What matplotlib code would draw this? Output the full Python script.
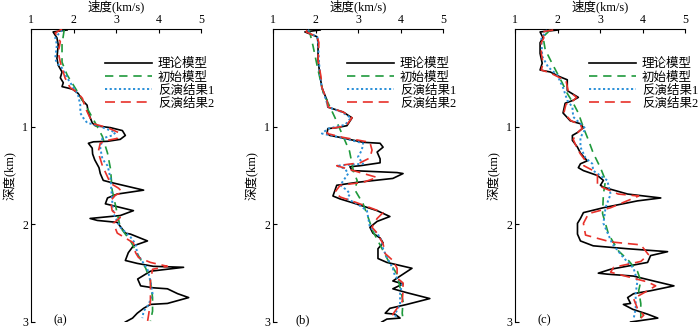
import matplotlib
matplotlib.use("Agg")
import matplotlib.pyplot as plt

plt.rcParams['font.family'] = ['Liberation Serif', 'Noto Sans CJK SC']
plt.rcParams['axes.unicode_minus'] = False

legend_labels = ["理论模型", "初始模型", "反演结果1", "反演结果2"]
panel_tags = ["(a)", "(b)", "(c)"]
xticks = [1, 2, 3, 4, 5]
yticks = [1, 2, 3]

# ---------------- panel (a) ----------------
a_true_d = [0.01, 0.03, 0.09, 0.16, 0.30, 0.37, 0.44, 0.50, 0.55, 0.59, 0.61, 0.62, 0.66, 0.73, 0.78, 0.86,
            0.96, 0.99, 1.01, 1.04, 1.09, 1.13, 1.15, 1.155, 1.17, 1.22, 1.28, 1.34, 1.42, 1.48, 1.55, 1.57,
            1.65, 1.69, 1.73, 1.79, 1.81, 1.86, 1.91, 1.94, 1.96, 1.98, 2.09, 2.10, 2.17, 2.22, 2.29, 2.37,
            2.40, 2.43, 2.44, 2.48, 2.56, 2.63, 2.65, 2.66, 2.71, 2.75, 2.81, 2.82, 2.86, 2.91, 2.96, 3.00]
a_true_v = [1.85, 1.52, 1.61, 1.64, 1.61, 1.64, 1.73, 1.69, 1.76, 1.73, 1.92, 1.99, 2.11, 2.21, 2.32, 2.35,
            2.44, 2.51, 2.87, 3.15, 3.22, 3.10, 2.80, 2.47, 2.35, 2.44, 2.45, 2.50, 2.60, 2.63, 2.70, 2.87,
            3.65, 3.03, 2.80, 2.75, 2.94, 3.41, 3.10, 2.39, 2.56, 3.03, 3.22, 3.34, 3.74, 3.41, 3.29, 3.22,
            3.50, 3.88, 4.59, 3.81, 3.51, 3.58, 3.88, 4.21, 4.45, 4.71, 4.21, 3.81, 3.65, 3.50, 3.39, 3.22]
a_init_d = [0.01, 0.16, 0.34, 0.47, 0.64, 0.81, 0.96, 1.10, 1.27, 1.43, 1.65, 1.89, 2.03, 2.17, 2.30,
            2.45, 2.58, 2.75, 2.89, 2.99]
a_init_v = [1.78, 1.73, 1.73, 1.85, 2.09, 2.32, 2.51, 2.68, 2.80, 2.87, 2.91, 3.03, 3.10, 3.34, 3.50,
            3.70, 3.81, 3.86, 3.86, 3.81]
a_inv1_d = [0.01, 0.09, 0.16, 0.30, 0.35, 0.40, 0.50, 0.58, 0.68, 0.78, 0.86, 0.91, 0.96, 0.99, 1.06, 1.09,
            1.12, 1.22, 1.33, 1.40, 1.45, 1.53, 1.76, 1.89, 2.03, 2.13, 2.20, 2.30, 2.46, 2.58, 2.71, 2.82,
            2.89, 2.96]
a_inv1_v = [1.73, 1.57, 1.61, 1.57, 1.61, 1.73, 1.85, 1.97, 2.11, 2.16, 2.16, 2.23, 2.32, 2.58, 2.99, 2.91,
            2.68, 2.63, 2.68, 2.80, 2.83, 2.87, 2.91, 2.94, 3.10, 3.34, 3.46, 3.50, 3.74, 3.81, 3.86, 3.77,
            3.65, 3.62]
a_inv2_d = [0.00, 0.04, 0.13, 0.24, 0.34, 0.40, 0.50, 0.60, 0.65, 0.71, 0.81, 0.91, 0.97, 1.01, 1.06, 1.12,
            1.14, 1.17, 1.26, 1.33, 1.40, 1.58, 1.63, 1.67, 1.70, 1.76, 1.86, 1.93, 1.99, 2.09, 2.14, 2.19,
            2.29, 2.34, 2.39, 2.43, 2.46, 2.58, 2.79, 2.92, 3.00]
a_inv2_v = [1.73, 1.57, 1.69, 1.64, 1.69, 1.73, 1.80, 1.92, 2.09, 2.21, 2.28, 2.39, 2.47, 2.80, 3.06, 3.03,
            2.80, 2.63, 2.58, 2.63, 2.68, 2.87, 3.06, 3.15, 2.99, 2.87, 2.91, 3.10, 2.94, 3.03, 3.22, 3.41,
            3.46, 3.53, 3.81, 4.21, 3.86, 3.81, 3.81, 3.77, 3.74]

# ---------------- panel (b) ----------------
b_true_d = [0.01, 0.03, 0.08, 0.14, 0.32, 0.49, 0.60, 0.73, 0.80, 0.85, 0.91, 0.99, 1.01, 1.02, 1.07, 1.09,
            1.11, 1.16, 1.17, 1.21, 1.26, 1.33, 1.37, 1.40, 1.41, 1.45, 1.47, 1.48, 1.53, 1.57, 1.60, 1.71,
            1.74, 1.78, 1.86, 1.92, 1.97, 2.03, 2.09, 2.14, 2.19, 2.25, 2.35, 2.39, 2.45, 2.53, 2.58, 2.61,
            2.66, 2.70, 2.76, 2.82, 2.86, 2.91, 2.92, 2.96, 2.97, 3.00]
b_true_v = [2.11, 1.75, 2.04, 2.06, 2.06, 2.11, 2.15, 2.27, 2.29, 2.65, 2.86, 2.74, 2.50, 2.29, 2.27, 2.34,
            2.58, 3.12, 3.52, 3.59, 3.45, 3.52, 3.52, 3.05, 2.81, 2.86, 3.92, 4.06, 3.82, 2.98, 2.50, 2.41,
            2.58, 2.88, 3.45, 3.75, 3.45, 3.28, 3.35, 3.52, 3.59, 3.47, 3.47, 3.68, 4.27, 3.99, 3.82, 4.06,
            3.82, 4.15, 4.69, 4.15, 3.75, 3.64, 3.87, 3.99, 3.68, 3.56]
b_init_d = [0.01, 0.17, 0.40, 0.65, 0.90, 1.10, 1.25, 1.47, 1.55, 1.65, 1.79, 1.93, 2.07, 2.27, 2.37,
            2.51, 2.65, 2.79, 2.91, 2.97]
b_init_v = [1.85, 1.94, 2.05, 2.18, 2.45, 2.65, 2.80, 2.90, 2.98, 2.93, 3.12, 3.24, 3.35, 3.59, 3.71,
            3.92, 3.99, 4.06, 4.04, 4.06]
b_inv1_d = [0.01, 0.03, 0.08, 0.14, 0.32, 0.49, 0.60, 0.73, 0.80, 0.85, 0.91, 0.98, 1.02, 1.07, 1.11, 1.17,
            1.24, 1.31, 1.38, 1.40, 1.43, 1.48, 1.60, 1.65, 1.69, 1.74, 1.79, 1.86, 2.03, 2.09, 2.17, 2.25,
            2.34, 2.45, 2.53, 2.60, 2.71, 2.82, 2.92, 2.96]
b_inv1_v = [1.85, 1.80, 2.04, 2.06, 2.08, 2.11, 2.15, 2.25, 2.30, 2.62, 2.83, 2.70, 2.30, 2.15, 2.58, 3.12,
            3.09, 3.00, 3.12, 2.50, 2.69, 2.77, 2.58, 2.74, 2.81, 2.74, 2.98, 3.21, 3.28, 3.45, 3.56, 3.59,
            3.68, 3.82, 3.87, 4.04, 3.99, 3.99, 3.87, 3.90]
b_inv2_d = [0.01, 0.03, 0.08, 0.14, 0.32, 0.49, 0.60, 0.73, 0.80, 0.85, 0.91, 0.99, 1.02, 1.07, 1.11, 1.16,
            1.24, 1.32, 1.37, 1.40, 1.47, 1.52, 1.57, 1.60, 1.67, 1.72, 1.78, 1.84, 1.88, 1.94, 2.03, 2.09,
            2.20, 2.30, 2.37, 2.45, 2.55, 2.60, 2.68, 2.79, 2.86, 2.92, 2.97]
b_inv2_v = [1.80, 1.78, 2.04, 2.08, 2.06, 2.13, 2.15, 2.27, 2.30, 2.65, 2.86, 2.72, 2.35, 2.27, 2.65, 3.28,
            3.33, 3.28, 3.05, 2.50, 3.05, 3.45, 3.12, 2.58, 2.46, 2.58, 2.98, 3.35, 3.59, 3.45, 3.33, 3.45,
            3.59, 3.64, 3.82, 3.92, 3.92, 4.06, 4.06, 4.04, 3.92, 3.82, 3.82]

# ---------------- panel (c) ----------------
c_true_d = [0.01, 0.03, 0.09, 0.14, 0.25, 0.35, 0.42, 0.44, 0.49, 0.52, 0.63, 0.65, 0.70, 0.73, 0.76, 0.86,
            0.94, 0.97, 1.01, 1.06, 1.09, 1.14, 1.21, 1.27, 1.35, 1.38, 1.42, 1.45, 1.50, 1.55, 1.60, 1.62,
            1.69, 1.73, 1.76, 1.83, 1.88, 1.94, 1.99, 2.10, 2.17, 2.22, 2.25, 2.28, 2.32, 2.39, 2.46, 2.50,
            2.51, 2.53, 2.58, 2.63, 2.68, 2.71, 2.75, 2.81, 2.82, 2.87, 2.92, 2.96, 3.00]
c_true_v = [2.02, 1.59, 1.66, 1.59, 1.59, 1.64, 1.59, 1.83, 2.06, 2.23, 2.23, 2.30, 2.49, 2.37, 2.18, 2.13,
            2.30, 2.54, 2.61, 2.47, 2.35, 2.35, 2.47, 2.54, 2.70, 2.54, 2.49, 2.61, 2.94, 3.08, 3.01, 3.08,
            3.65, 4.43, 3.88, 3.08, 2.61, 2.54, 2.47, 2.47, 2.54, 2.84, 3.65, 4.59, 4.19, 4.12, 3.25, 2.96,
            3.17, 3.79, 4.26, 4.74, 4.19, 3.79, 3.65, 3.72, 3.55, 3.77, 4.12, 4.36, 3.72]
c_init_d = [0.01, 0.08, 0.21, 0.35, 0.45, 0.55, 0.66, 0.76, 0.86, 1.01, 1.14, 1.27, 1.42, 1.55, 1.69,
            1.89, 2.10, 2.27, 2.37, 2.48, 2.58, 2.68, 2.81, 2.96]
c_init_v = [1.83, 1.66, 1.71, 1.87, 1.99, 2.11, 2.23, 2.37, 2.49, 2.61, 2.73, 2.84, 3.01, 3.13, 3.08,
            3.06, 3.20, 3.43, 3.67, 3.88, 3.96, 3.91, 3.96, 3.96]
c_inv1_d = [0.01, 0.10, 0.28, 0.39, 0.47, 0.60, 0.73, 0.80, 0.90, 0.97, 1.02, 1.11, 1.21, 1.32, 1.38, 1.45,
            1.55, 1.69, 1.83, 1.99, 2.20, 2.34, 2.45, 2.58, 2.71, 2.86, 2.97]
c_inv1_v = [1.75, 1.62, 1.64, 1.78, 1.99, 2.13, 2.23, 2.35, 2.37, 2.54, 2.66, 2.54, 2.54, 2.66, 2.82, 2.84,
            3.17, 3.25, 3.13, 3.08, 3.29, 3.55, 3.79, 3.88, 3.84, 3.84, 3.79]
c_inv2_d = [0.01, 0.03, 0.09, 0.14, 0.25, 0.35, 0.42, 0.45, 0.50, 0.53, 0.63, 0.70, 0.74, 0.77, 0.86, 0.94,
            0.98, 1.02, 1.07, 1.13, 1.21, 1.28, 1.35, 1.40, 1.45, 1.50, 1.60, 1.69, 1.71, 1.83, 1.89, 1.99,
            2.11, 2.18, 2.21, 2.31, 2.38, 2.44, 2.49, 2.59, 2.63, 2.68, 2.76, 2.86, 2.93, 2.96]
c_inv2_v = [1.90, 1.62, 1.68, 1.62, 1.62, 1.66, 1.62, 1.83, 2.06, 2.20, 2.25, 2.45, 2.35, 2.20, 2.15, 2.32,
            2.54, 2.58, 2.45, 2.37, 2.45, 2.54, 2.66, 2.62, 2.84, 2.94, 2.94, 3.43, 3.91, 3.25, 2.73, 2.61,
            2.66, 3.25, 3.96, 4.14, 3.96, 3.32, 3.25, 4.12, 4.31, 4.12, 3.79, 3.88, 4.03, 3.96]

panels = [
    (a_true_d, a_true_v, a_init_d, a_init_v, a_inv1_d, a_inv1_v, a_inv2_d, a_inv2_v),
    (b_true_d, b_true_v, b_init_d, b_init_v, b_inv1_d, b_inv1_v, b_inv2_d, b_inv2_v),
    (c_true_d, c_true_v, c_init_d, c_init_v, c_inv1_d, c_inv1_v, c_inv2_d, c_inv2_v),
]

fig = plt.figure(figsize=(7.0, 3.29), dpi=100)
lefts = [31 / 700, 273 / 700, 515 / 700]
width = 170 / 700
bottom = 1 - 322 / 329
height = (322 - 29) / 329

black = "#000000"
green = "#1f9a3c"
blue = "#2a8fd8"
red = "#e8312a"

for i, (td, tv, gd, gv, bd, bv, rd, rv) in enumerate(panels):
    ax = fig.add_axes([lefts[i], bottom, width, height])
    ax.plot(tv, td, color=black, lw=1.2, label=legend_labels[0], zorder=3)
    ax.plot(gv, gd, color=green, lw=1.2, dashes=(5, 3.5), label=legend_labels[1], zorder=4)
    ax.plot(bv, bd, color=blue, lw=1.4, dashes=(1.1, 1.3), label=legend_labels[2], zorder=5)
    ax.plot(rv, rd, color=red, lw=1.2, dashes=(6, 3.5), label=legend_labels[3], zorder=6)
    ax.set_xlim(1, 5)
    ax.set_ylim(3, 0)
    ax.xaxis.tick_top()
    ax.xaxis.set_label_position('top')
    ax.set_xticks(xticks)
    ax.set_yticks(yticks)
    ax.tick_params(direction='in', length=3, width=0.8, labelsize=8.5, pad=2)
    ax.spines['right'].set_visible(False)
    ax.spines['bottom'].set_visible(False)
    for s in ('left', 'top'):
        ax.spines[s].set_linewidth(0.8)
    ax.set_xlabel("速度(km/s)", fontsize=9, labelpad=3)
    ax.set_ylabel("深度(km)", fontsize=9, labelpad=4)
    ax.text(1.7, 2.98, panel_tags[i], fontsize=9, ha='center', va='center')
    ax.legend(loc='upper left', bbox_to_anchor=(0.438, 0.90), frameon=False,
              fontsize=9, handlelength=3.7, handletextpad=0.5, labelspacing=0.08,
              borderpad=0, borderaxespad=0)

fig.savefig("out.png", dpi=100)
